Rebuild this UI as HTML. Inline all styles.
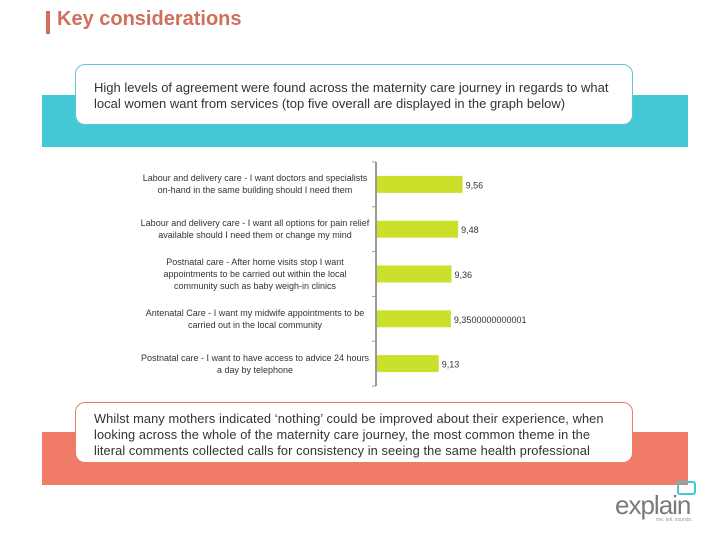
<!DOCTYPE html>
<html><head><meta charset="utf-8"><style>
body{margin:0;width:720px;height:540px;background:#fff;position:relative;overflow:hidden;font-family:"Liberation Sans",sans-serif}
.abs{position:absolute}
.box{position:absolute;background:#fff;border:1px solid #5fc6d2;border-radius:10px;box-sizing:border-box;color:#333;font-size:13px;line-height:16px;padding:14px 10px 0 18px;white-space:nowrap}
.lbl{position:absolute;font-size:9px;line-height:12px;color:#333;text-align:center;width:250px;white-space:pre-line}
.val{font-size:9px;fill:#333;font-family:"Liberation Sans",sans-serif}
</style></head><body>
<div class="abs" style="left:46px;top:11px;width:4px;height:23px;background:#d0705a"></div>
<div class="abs" style="left:57px;top:8px;font-size:20px;font-weight:bold;color:#d0705a">Key considerations</div>
<div class="abs" style="left:42px;top:95px;width:646px;height:52px;background:#45c8d6"></div>
<div class="box" style="left:75px;top:64px;width:558px;height:61px;padding-top:15px">High levels of agreement were found across the maternity care journey in regards to what<br>local women want from services (top five overall are displayed in the graph below)</div>
<div class="abs" style="left:42px;top:432px;width:646px;height:53px;background:#f07b66"></div>
<div class="box" style="left:75px;top:402px;width:558px;height:61px;padding-top:8px;border-color:#f07b66;font-size:12.8px;letter-spacing:0.1px">Whilst many mothers indicated ‘nothing’ could be improved about their experience, when<br>looking across the whole of the maternity care journey, the most common theme in the<br>literal comments collected calls for consistency in seeing the same health professional</div>
<div id="labels"></div>
<svg class="abs" style="left:0;top:0" width="720" height="540" id="chart"></svg>
<div class="abs" style="left:615px;top:490px;font-size:26px;color:#7a7a7a;letter-spacing:-1px">explain</div>
<div class="abs" style="left:677px;top:481px;width:15px;height:10px;border:2px solid #45c8d6;border-radius:3px"></div>
<div class="abs" style="left:656px;top:517px;font-size:5px;color:#999">me. tell. sounds.</div>
<script>
const categories=["Labour and delivery care - I want doctors and specialists\non-hand in the same building should I need them","Labour and delivery care - I want all options for pain relief\navailable should I need them or change my mind","Postnatal care - After home visits stop I want\nappointments to be carried out within the local\ncommunity such as baby weigh-in clinics","Antenatal Care - I want my midwife appointments to be\ncarried out in the local community","Postnatal care - I want to have access to advice 24 hours\na day by telephone"];
const values=[9.56,9.48,9.36,9.35,9.13];
const valueLabels=["9,56","9,48","9,36","9,3500000000001","9,13"];
const svg=document.getElementById('chart');
const NS='http://www.w3.org/2000/svg';
const x0=376,top0=162,bottom0=386,xmin=8,ppu=55.5;
const band=(bottom0-top0)/categories.length;
const xs=v=>x0+(v-xmin)*ppu;
const ys=i=>top0+band*i+band/2;
function mk(t,a){const e=document.createElementNS(NS,t);for(const k in a)e.setAttribute(k,a[k]);svg.appendChild(e);return e;}
const ax=mk('line',{x1:x0,y1:top0,x2:x0,y2:bottom0,stroke:'#999','stroke-width':2});


for(let i=0;i<=categories.length;i++){
 const t=mk('line',{x1:x0-4,x2:x0,y1:top0+band*i,y2:top0+band*i,stroke:'#999','stroke-width':1});
 
 
}
const lab=document.getElementById('labels');
values.forEach((v,i)=>{
 const r=mk('rect',{x:x0+1,y:ys(i)-8.5,width:xs(v)-x0-1,height:17,fill:'#cbe02a'});
 
 
 const t=mk('text',{x:xs(v)+3,y:ys(i)+4,class:'val'});
 t.textContent=valueLabels[i];
 
 
 const d=document.createElement('div');
 d.className='lbl';
 d.textContent=categories[i];
 const lines=categories[i].split('\n').length;
 d.style.left='130px';
 d.style.top=(ys(i)-lines*6)+'px';
 
 
 lab.appendChild(d);
});
</script>
</body></html>
